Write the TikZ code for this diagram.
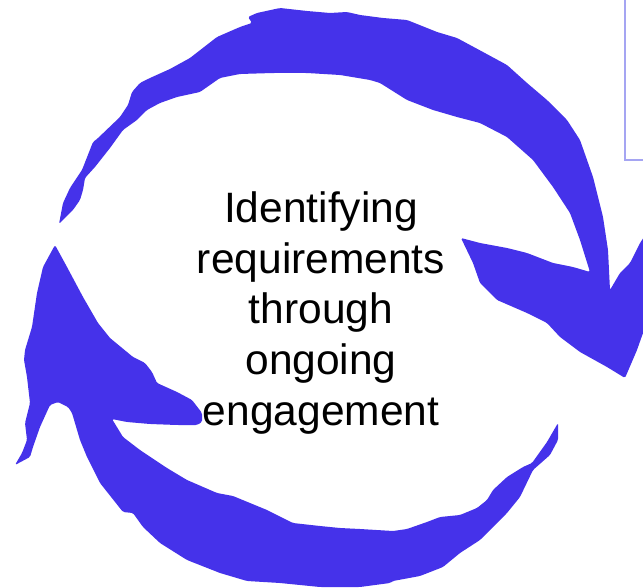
\documentclass[tikz,border=0pt]{standalone}
\usepackage{fontspec}
\setmainfont{Liberation Sans}
\usepackage{tikz}
\usetikzlibrary{positioning}
\definecolor{cycle blue}{RGB}{69,50,234}
\definecolor{frame violet}{RGB}{165,165,242}
\tikzset{
brush stroke/.style = {
     fill=cycle blue,
     draw=none,
     rounded corners=1.5pt
   },
frame line/.style = {
     draw=frame violet,
     line width=1.5pt
   },
cycle text/.style = {
     align=center,
     inner sep=0pt,
     font=\fontsize{42.5}{50.75}\selectfont
   }
}

\begin{document}
\begin{tikzpicture}[x=1pt,y=-1pt]
\clip (0,0) rectangle (643,588);
\fill[white] (0,0) rectangle (643,588);
% frame of the box at the top right
\draw[frame line] (625,-5) -- (625,160) -- (650,160);
% upper arrow, tail on the left, head on the right
\fill[brush stroke] (59,224) -- (63,203) -- (70,188) -- (82,170) -- (93,142) -- (97,139)
  -- (120,117) -- (128,105) -- (132,92) -- (140,83) -- (150,78) -- (170,69) -- (190,58)
  -- (217,37) -- (240,27) -- (252,23) -- (248,17) -- (257,13) -- (280,8) -- (307,11)
  -- (330,13) -- (347,12) -- (360,15) -- (383,18) -- (407,20) -- (437,32) -- (457,38)
  -- (483,52) -- (507,65) -- (527,83) -- (547,100) -- (567,120) -- (580,140) -- (593,177)
  -- (603,217) -- (608,250) -- (610,290) -- (620,273) -- (630,263) -- (640,243) -- (650,228)
  -- (650,330) -- (643,333) -- (637,350) -- (625,378) -- (607,367) -- (580,352) -- (560,337)
  -- (547,323) -- (527,313) -- (497,300) -- (480,283) -- (473,263) -- (461,238) -- (480,243)
  -- (507,248) -- (527,253) -- (553,263) -- (573,267) -- (590,272) -- (580,240) -- (570,213)
  -- (553,187) -- (533,160) -- (507,137) -- (480,123) -- (457,117) -- (433,110) -- (407,100)
  -- (380,83) -- (370,80) -- (340,75) -- (307,73) -- (273,73) -- (240,74) -- (220,78)
  -- (200,92) -- (177,97) -- (160,103) -- (147,110) -- (137,120) -- (123,130) -- (110,148)
  -- (95,167) -- (85,178) -- (83,190) -- (80,200) -- (73,210) -- cycle;
% lower arrow, tail on the right, head on the left
\fill[brush stroke] (558,423) -- (558,440) -- (550,455) -- (533,470) -- (520,497) -- (507,513)
  -- (493,527) -- (480,540) -- (460,553) -- (443,567) -- (420,576) -- (393,581) -- (390,583)
  -- (360,587) -- (320,587) -- (280,583) -- (247,581) -- (220,573) -- (187,560) -- (160,543)
  -- (143,527) -- (133,513) -- (123,512) -- (100,483) -- (87,457) -- (80,440) -- (72,413)
  -- (68,407) -- (58,402) -- (50,405) -- (40,427) -- (33,447) -- (30,457) -- (15,465)
  -- (22,453) -- (27,440) -- (25,423) -- (30,403) -- (27,377) -- (24,360) -- (25,350)
  -- (32,327) -- (37,293) -- (43,267) -- (55,245) -- (67,267) -- (83,297) -- (98,323)
  -- (110,338) -- (133,357) -- (145,363) -- (152,372) -- (157,383) -- (177,392) -- (192,400)
  -- (202,413) -- (202,422) -- (197,425) -- (177,425) -- (150,424) -- (127,422) -- (112,419)
  -- (123,437) -- (140,450) -- (167,468) -- (187,480) -- (217,493) -- (233,496) -- (267,510)
  -- (293,523) -- (320,526) -- (340,528) -- (360,529) -- (393,531) -- (407,529) -- (427,522)
  -- (440,517) -- (460,515) -- (477,508) -- (487,500) -- (493,490) -- (507,477) -- (523,467)
  -- (532,463) -- (547,442) -- cycle;
\node[cycle text] (cycle label) at (321,313) {Identifying\\requirements\\through\\ongoing\\engagement};
\end{tikzpicture}
\end{document}
